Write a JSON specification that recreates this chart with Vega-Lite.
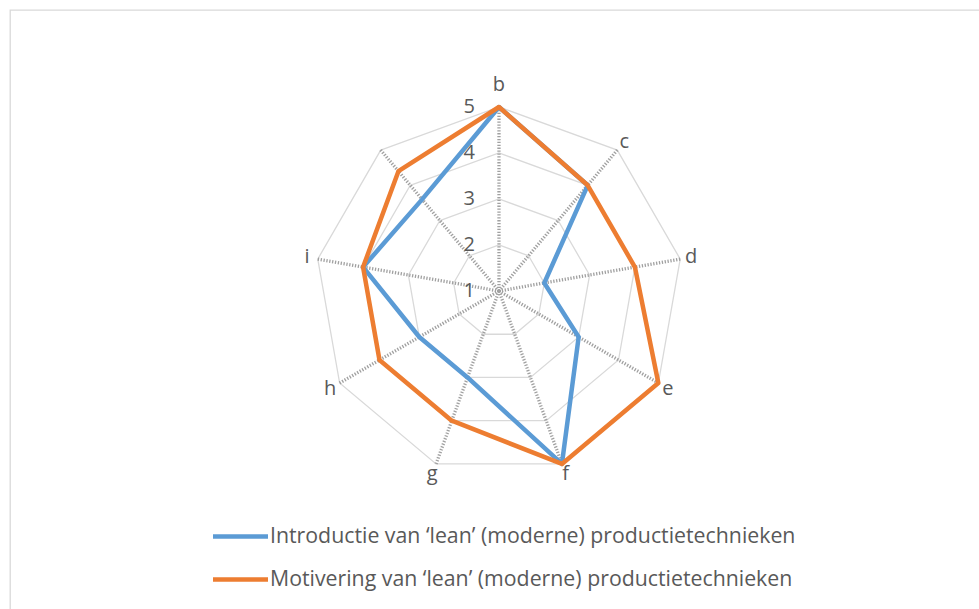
{
  "$schema": "https://vega.github.io/schema/vega-lite/v6.json",
  "width": 980,
  "height": 610,
  "autosize": {"type": "none"},
  "padding": {"left": 10, "top": 10, "right": 0, "bottom": 0},
  "background": "white",
  "config": {"view": {"stroke": "#d9d9d9", "strokeWidth": 1.3}, "font": "Open Sans"},
  "datasets": {
    "scores": [
      {"series": "Introductie van ‘lean’ (moderne) productietechnieken", "axis": "a", "value": 3.6},
      {"series": "Introductie van ‘lean’ (moderne) productietechnieken", "axis": "b", "value": 5},
      {"series": "Introductie van ‘lean’ (moderne) productietechnieken", "axis": "c", "value": 4},
      {"series": "Introductie van ‘lean’ (moderne) productietechnieken", "axis": "d", "value": 2},
      {"series": "Introductie van ‘lean’ (moderne) productietechnieken", "axis": "e", "value": 3},
      {"series": "Introductie van ‘lean’ (moderne) productietechnieken", "axis": "f", "value": 5},
      {"series": "Introductie van ‘lean’ (moderne) productietechnieken", "axis": "g", "value": 3},
      {"series": "Introductie van ‘lean’ (moderne) productietechnieken", "axis": "h", "value": 3},
      {"series": "Introductie van ‘lean’ (moderne) productietechnieken", "axis": "i", "value": 4},
      {"series": "Motivering van ‘lean’ (moderne) productietechnieken", "axis": "a", "value": 4.4},
      {"series": "Motivering van ‘lean’ (moderne) productietechnieken", "axis": "b", "value": 5},
      {"series": "Motivering van ‘lean’ (moderne) productietechnieken", "axis": "c", "value": 4},
      {"series": "Motivering van ‘lean’ (moderne) productietechnieken", "axis": "d", "value": 4},
      {"series": "Motivering van ‘lean’ (moderne) productietechnieken", "axis": "e", "value": 5},
      {"series": "Motivering van ‘lean’ (moderne) productietechnieken", "axis": "f", "value": 5},
      {"series": "Motivering van ‘lean’ (moderne) productietechnieken", "axis": "g", "value": 4},
      {"series": "Motivering van ‘lean’ (moderne) productietechnieken", "axis": "h", "value": 4},
      {"series": "Motivering van ‘lean’ (moderne) productietechnieken", "axis": "i", "value": 4}
    ],
    "axes": [
      {"axis": "a", "label": ""},
      {"axis": "b", "label": "b"},
      {"axis": "c", "label": "c"},
      {"axis": "d", "label": "d"},
      {"axis": "e", "label": "e"},
      {"axis": "f", "label": "f"},
      {"axis": "g", "label": "g"},
      {"axis": "h", "label": "h"},
      {"axis": "i", "label": "i"}
    ],
    "levels": [{"level": 1}, {"level": 2}, {"level": 3}, {"level": 4}, {"level": 5}]
  },
  "encoding": {
    "x": {"field": "px", "type": "quantitative", "scale": {"domain": [-10.630, 10.674], "nice": false, "zero": false}, "axis": null},
    "y": {"field": "py", "type": "quantitative", "scale": {"domain": [-7.152, 6.109], "nice": false, "zero": false}, "axis": null}
  },
  "layer": [
    {
      "data": {"name": "levels"},
      "transform": [
        {"filter": "datum.level > 1"},
        {"calculate": "split('abcdefghi','')", "as": "axis"},
        {"flatten": ["axis"]},
        {"calculate": "indexof('abcdefghi', datum.axis) - 1", "as": "idx"},
        {"calculate": "(datum.level-1)*sin(datum.idx*2*PI/9)", "as": "px"},
        {"calculate": "(datum.level-1)*cos(datum.idx*2*PI/9)", "as": "py"}
      ],
      "mark": {"type": "line", "interpolate": "linear-closed", "stroke": "#d9d9d9", "strokeWidth": 1.3},
      "encoding": {"detail": {"field": "level"}, "order": {"field": "idx", "type": "quantitative"}}
    },
    {
      "data": {"name": "axes"},
      "transform": [
        {"calculate": "indexof('abcdefghi', datum.axis) - 1", "as": "idx"},
        {"calculate": "4*sin(datum.idx*2*PI/9)", "as": "px"},
        {"calculate": "4*cos(datum.idx*2*PI/9)", "as": "py"}
      ],
      "mark": {"type": "rule", "stroke": "#a0a0a0", "strokeWidth": 3.3, "strokeDash": [1.3, 1.6]},
      "encoding": {"x2": {"datum": 0}, "y2": {"datum": 0}}
    },
    {
      "data": {"name": "scores"},
      "transform": [
        {"calculate": "indexof('abcdefghi', datum.axis) - 1", "as": "idx"},
        {"calculate": "(datum.value-1)*sin(datum.idx*2*PI/9)", "as": "px"},
        {"calculate": "(datum.value-1)*cos(datum.idx*2*PI/9)", "as": "py"}
      ],
      "mark": {"type": "line", "interpolate": "linear-closed", "strokeWidth": 4.5, "strokeJoin": "round", "strokeCap": "round"},
      "encoding": {
        "order": {"field": "idx", "type": "quantitative"},
        "color": {
          "field": "series",
          "type": "nominal",
          "scale": {
            "domain": ["Introductie van ‘lean’ (moderne) productietechnieken", "Motivering van ‘lean’ (moderne) productietechnieken"],
            "range": ["#5b9bd5", "#ed7d31"]
          },
          "legend": {
            "orient": "none",
            "legendX": 218,
            "legendY": 514,
            "title": null,
            "direction": "vertical",
            "symbolType": "M-2.75,0H2.75",
            "symbolSize": 400,
            "symbolStrokeWidth": 4.5,
            "labelFontSize": 21.3,
            "labelColor": "#595959",
            "labelFont": "Open Sans",
            "labelOffset": 17,
            "rowPadding": 20,
            "padding": 0,
            "labelLimit": 0
          }
        }
      }
    },
    {
      "data": {"name": "axes"},
      "transform": [
        {"calculate": "indexof('abcdefghi', datum.axis) - 1", "as": "idx"},
        {"calculate": "datum.axis == 'b' ? 206/46 : 195/46", "as": "rr"},
        {"calculate": "datum.rr*sin(datum.idx*2*PI/9)", "as": "px"},
        {"calculate": "datum.rr*cos(datum.idx*2*PI/9)", "as": "py"}
      ],
      "mark": {"type": "text", "font": "Open Sans", "fontSize": 20, "color": "#595959", "align": "center", "baseline": "middle"},
      "encoding": {"text": {"field": "label"}}
    },
    {
      "data": {"name": "levels"},
      "transform": [
        {"calculate": "0", "as": "px"},
        {"calculate": "datum.level-1", "as": "py"},
        {"calculate": "'' + datum.level", "as": "lbl"}
      ],
      "mark": {"type": "text", "font": "Open Sans", "fontSize": 20, "color": "#595959", "align": "right", "baseline": "middle", "dx": -24},
      "encoding": {"text": {"field": "lbl", "type": "nominal"}}
    }
  ]
}
